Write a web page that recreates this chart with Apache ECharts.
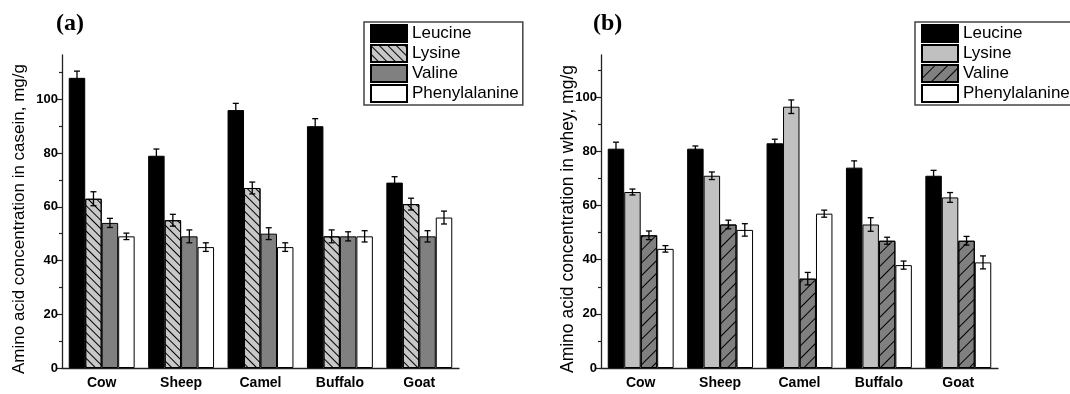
<!DOCTYPE html>
<html>
<head>
<meta charset="utf-8">
<script src="https://cdn.jsdelivr.net/npm/echarts@6/dist/echarts.min.js"></script>
<style>
  html, body { margin: 0; padding: 0; background: #fff; }
  #container { width: 1070px; height: 394px; }
</style>
</head>
<body>
<div id="container"></div>
<script>
  // categories / amino acids
  let animals = ['Cow', 'Sheep', 'Camel', 'Buffalo', 'Goat'];
  let aminoAcids = ['Leucine', 'Lysine', 'Valine', 'Phenylalanine'];
  let yTicks = [0, 20, 40, 60, 80, 100];
  let yMinorTicks = [10, 30, 50, 70, 90, 110];

  // (a) casein, mg/g
  let caseinLeucine = [108, 79, 96, 90, 69];
  let caseinLysine = [63, 55, 67, 49, 61];
  let caseinValine = [54, 49, 50, 49, 49];
  let caseinPhe = [49, 45, 45, 49, 56];
  let caseinLeucineErr = [2.5, 2.5, 2.5, 2.8, 2.2];
  let caseinLysineErr = [2.6, 2.2, 2.2, 2.4, 2.2];
  let caseinValineErr = [1.7, 2.4, 2.2, 1.7, 2.1];
  let caseinPheErr = [1.2, 1.6, 1.6, 2.1, 2.4];

  // (b) whey, mg/g
  let wheyLeucine = [81, 81, 83, 74, 71];
  let wheyLysine = [65, 71, 96.5, 53, 63];
  let wheyValine = [49, 53, 33, 47, 47];
  let wheyPhe = [44, 51, 57, 38, 39];
  let wheyLeucineErr = [2.4, 1, 1.5, 2.5, 2];
  let wheyLysineErr = [1.1, 1.4, 2.5, 2.5, 1.8];
  let wheyValineErr = [1.6, 1.6, 2.3, 1.3, 1.6];
  let wheyPheErr = [1.2, 2.3, 1.3, 1.5, 2.4];

  let myChart = echarts.init(document.getElementById('container'));

  const CAT_GAP = 0.17;
  const FONT = 'Liberation Sans, Arial, sans-serif';

  // item styles of the bars, per panel
  let caseinStyles = [
    { color: '#000', borderColor: '#000', borderWidth: 1 },
    { color: '#c8c8c8', borderColor: '#000', borderWidth: 1,
      decal: { symbol: 'rect', symbolSize: 1, dashArrayX: [1, 0], dashArrayY: [1, 5], rotation: Math.PI / 4, color: '#000' } },
    { color: '#808080', borderColor: '#000', borderWidth: 1 },
    { color: '#fff', borderColor: '#000', borderWidth: 1 }
  ];
  let wheyStyles = [
    { color: '#000', borderColor: '#000', borderWidth: 1 },
    { color: '#c0c0c0', borderColor: '#000', borderWidth: 1 },
    { color: '#808080', borderColor: '#000', borderWidth: 1,
      decal: { symbol: 'rect', symbolSize: 1, dashArrayX: [1, 0], dashArrayY: [1, 8], rotation: -Math.PI / 4, color: '#000' } },
    { color: '#fff', borderColor: '#000', borderWidth: 1 }
  ];

  function errorRender(k) {
    return function (params, api) {
      let idx = api.value(0), v = api.value(1), e = api.value(2);
      let c = api.coord([idx, v]);
      let band = api.size([1, 0])[0];
      let groupW = band * (1 - CAT_GAP);
      let bw = groupW / 4;
      let x = c[0] - groupW / 2 + bw * (k + 0.5);
      let top = api.coord([idx, v + e])[1];
      let bot = api.coord([idx, v - e])[1];
      let st = { stroke: '#000', lineWidth: 1.3 };
      return {
        type: 'group',
        children: [
          { type: 'line', shape: { x1: x, y1: top, x2: x, y2: bot }, style: st },
          { type: 'line', shape: { x1: x - 3, y1: top, x2: x + 3, y2: top }, style: st },
          { type: 'line', shape: { x1: x - 3, y1: bot, x2: x + 3, y2: bot }, style: st }
        ]
      };
    };
  }

  function buildSeries(prefix, panel, values, errs, styles) {
    let out = [];
    values.forEach(function (vals, k) {
      out.push({
        name: prefix + ' ' + aminoAcids[k],
        type: 'bar',
        xAxisIndex: panel * 2,
        yAxisIndex: panel * 2,
        barGap: '0%',
        barCategoryGap: (CAT_GAP * 100) + '%',
        itemStyle: styles[k],
        data: vals,
        silent: true
      });
    });
    values.forEach(function (vals, k) {
      out.push({
        type: 'custom',
        xAxisIndex: panel * 2,
        yAxisIndex: panel * 2,
        z: 5,
        silent: true,
        renderItem: errorRender(k),
        data: vals.map(function (v, i) { return [i, v, errs[k][i]]; })
      });
    });
    return out;
  }

  function xAxes(grid) {
    return [
      {
        type: 'category', gridIndex: grid, data: animals, position: 'bottom',
        axisLine: { lineStyle: { color: '#222', width: 1.3 } },
        axisTick: { alignWithLabel: true, length: 5, lineStyle: { color: '#222', width: 1.2 } },
        axisLabel: { margin: 8, fontSize: 14, fontWeight: 'bold', color: '#000', fontFamily: FONT }
      },
      {
        type: 'category', gridIndex: grid, data: animals, position: 'bottom',
        axisLine: { show: false },
        axisTick: { length: 3, lineStyle: { color: '#222', width: 1.2 } },
        axisLabel: { show: false }
      }
    ];
  }

  function yAxes(grid, max, name, nameGap, nameSize) {
    return [
      {
        type: 'value', gridIndex: grid, min: 0, max: max, position: 'left',
        name: name, nameLocation: 'middle', nameGap: nameGap, nameMoveOverlap: false,
        nameTextStyle: { fontSize: nameSize, color: '#000', fontFamily: FONT, padding: [0, 15, 0, 0] },
        splitLine: { show: false },
        axisLine: { show: true, lineStyle: { color: '#222', width: 1.3 } },
        axisTick: { show: true, length: 5, customValues: yTicks, lineStyle: { color: '#222', width: 1.2 } },
        axisLabel: { customValues: yTicks, margin: 4, fontSize: 13, fontWeight: 'bold', color: '#000', fontFamily: FONT }
      },
      {
        type: 'value', gridIndex: grid, min: 0, max: max, position: 'left',
        splitLine: { show: false },
        axisLine: { show: false },
        axisTick: { show: true, length: 3, customValues: yMinorTicks, lineStyle: { color: '#222', width: 1.2 } },
        axisLabel: { show: false }
      }
    ];
  }

  function legend(prefix, left) {
    return {
      left: left, top: 22, orient: 'vertical',
      data: aminoAcids.map(function (a) { return prefix + ' ' + a; }),
      formatter: function (n) { return n.split(' ')[1]; },
      icon: 'rect', itemWidth: 36, itemHeight: 17, itemGap: 1,
      padding: [2, 4, 2, 6],
      borderColor: '#444', borderWidth: 1.5,
      selectedMode: false,
      textStyle: { fontSize: 17, color: '#000', fontFamily: FONT }
    };
  }

  let option = {
    animation: false,
    backgroundColor: '#fff',
    title: [
      { text: '(a)', left: 51, top: 7, textStyle: { fontFamily: 'Liberation Serif, serif', fontWeight: 'bold', fontSize: 24, color: '#000' } },
      { text: '(b)', left: 588, top: 7, textStyle: { fontFamily: 'Liberation Serif, serif', fontWeight: 'bold', fontSize: 24, color: '#000' } }
    ],
    legend: [legend('casein', 364), legend('whey', 915)],
    grid: [
      { left: 62, top: 55, width: 397, height: 313 },
      { left: 601, top: 55, width: 397, height: 313 }
    ],
    xAxis: xAxes(0).concat(xAxes(1)),
    yAxis: yAxes(0, 116.5, 'Amino acid concentration in casein, mg/g', 34, 17)
      .concat(yAxes(1, 115.6, 'Amino acid concentration in whey, mg/g', 24, 17.5)),
    series: buildSeries('casein', 0,
        [caseinLeucine, caseinLysine, caseinValine, caseinPhe],
        [caseinLeucineErr, caseinLysineErr, caseinValineErr, caseinPheErr], caseinStyles)
      .concat(buildSeries('whey', 1,
        [wheyLeucine, wheyLysine, wheyValine, wheyPhe],
        [wheyLeucineErr, wheyLysineErr, wheyValineErr, wheyPheErr], wheyStyles))
  };

  myChart.setOption(option, true);
</script>
</body>
</html>
